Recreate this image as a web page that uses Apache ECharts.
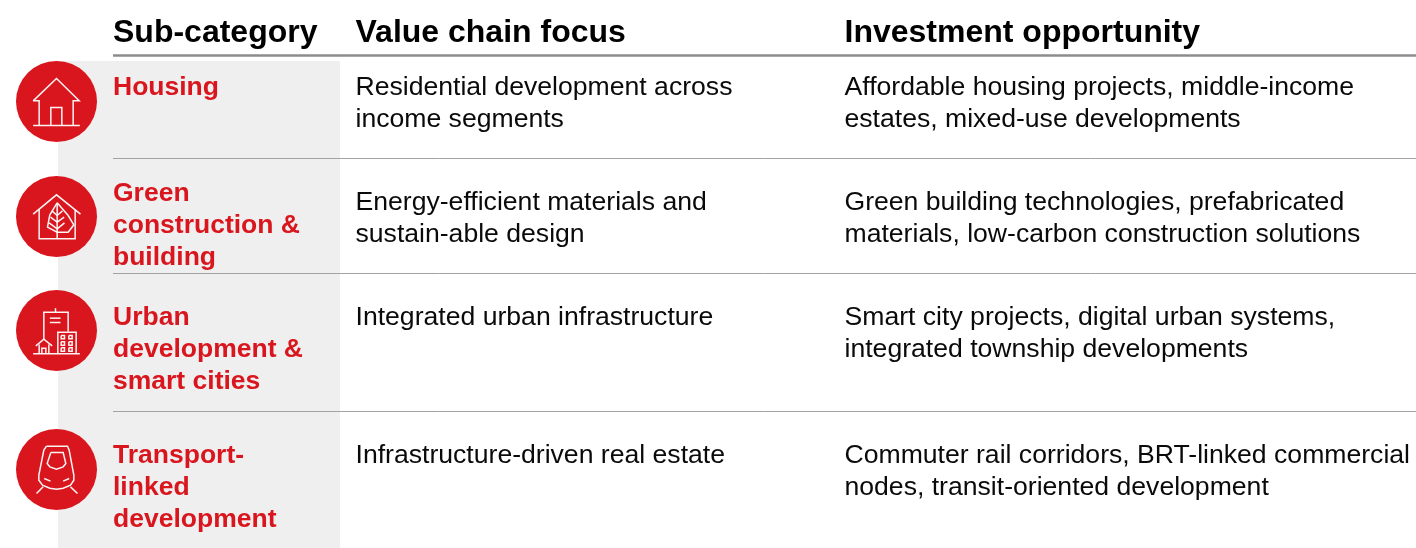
<!DOCTYPE html>
<html>
<head>
<meta charset="utf-8">
<style>
  html, body { margin: 0; padding: 0; background: #fff; }
  #main { width: 1416px; height: 548px; }
</style>
<script src="https://cdn.jsdelivr.net/npm/echarts@6/dist/echarts.min.js"></script>
</head>
<body>
<div id="main"></div>
<script>
const headers = ["Sub-category", "Value chain focus", "Investment opportunity"];
const subCategories = [
  ["Housing"],
  ["Green", "construction &", "building"],
  ["Urban", "development &", "smart cities"],
  ["Transport-", "linked", "development"]
];
const valueChain = [
  ["Residential development across", "income segments"],
  ["Energy-efficient materials and", "sustain-able design"],
  ["Integrated urban infrastructure"],
  ["Infrastructure-driven real estate"]
];
const opportunity = [
  ["Affordable housing projects, middle-income", "estates, mixed-use developments"],
  ["Green building technologies, prefabricated", "materials, low-carbon construction solutions"],
  ["Smart city projects, digital urban systems,", "integrated township developments"],
  ["Commuter rail corridors, BRT-linked commercial", "nodes, transit-oriented development"]
];

// layout
const columnX = [113, 355.5, 844.5];
const catFirstY = [88, 194, 318, 456];
const bodyFirstY = [88, 203, 318, 456];
const circleY = [101.5, 216.5, 330.5, 469.5];
const ruleY = [158.5, 273.5, 411.5];
const RED = "#d9161e";

// icon outlines, traced in 3x units around the circle centre (170, cy)
const icons = [
  { cy: 154, lines: [
    [[100,152],[170,85],[238,152],[220,152],[220,225]],
    [[100,152],[118,152],[118,225]],
    [[153,225],[153,172],[186,172],[186,225]],
    [[100,226],[240,226]]
  ]},
  { cy: 153, lines: [
    [[100,146],[170,88],[242,146]],
    [[118,132],[118,220],[226,220],[226,132]],
    [[172,112],[150,148],[143,185],[172,200],[205,200],[222,178],[205,150],[172,112]],
    [[172,115],[172,220]],
    [[172,150],[156,136]], [[172,150],[188,136]],
    [[172,170],[152,155]], [[172,170],[193,155]],
    [[172,190],[148,172]], [[172,190],[194,172]]
  ]},
  { cy: 152, lines: [
    [[132,178],[132,97],[205,97],[205,155]],
    [[167,85],[167,97]],
    [[150,115],[182,115]], [[150,128],[182,128]],
    [[174,222],[174,157],[229,157],[229,222]],
    [[184,167],[194,167],[194,177],[184,177],[184,167]],
    [[207,167],[217,167],[217,177],[207,177],[207,167]],
    [[184,186],[194,186],[194,196],[184,196],[184,186]],
    [[207,186],[217,186],[217,196],[207,196],[207,186]],
    [[184,204],[194,204],[194,214],[184,214],[184,204]],
    [[207,204],[217,204],[217,214],[207,214],[207,204]],
    [[108,198],[132,178],[157,198]],
    [[118,194],[118,222]], [[147,194],[147,222]],
    [[126,222],[126,205],[138,205],[138,222]],
    [[100,222],[240,222]]
  ]},
  { cy: 148, lines: [
    [[140,78],[203,78],[208,90],[222,165],[222,180],[212,195],[190,204],[170,207],[150,204],[128,195],[117,180],[117,165],[132,90],[140,78]],
    [[153,97],[190,97],[198,130],[190,140],[170,147],[150,140],[142,130],[153,97]],
    [[133,175],[152,183]], [[208,175],[190,183]],
    [[130,200],[110,220]], [[212,200],[233,220]]
  ]}
];

function textEl(x, y, str, size, weight, color) {
  return {
    type: "text",
    x: x,
    y: y,
    style: {
      text: str,
      fill: color,
      font: weight + " " + size + "px 'Liberation Sans', Arial, sans-serif",
      textVerticalAlign: "middle"
    }
  };
}

function hRule(y, width, color) {
  return {
    type: "line",
    shape: { x1: columnX[0], y1: y, x2: 1416, y2: y },
    style: { stroke: color, lineWidth: width }
  };
}

function buildGraphics() {
  const els = [];
  // grey band behind the first column
  els.push({
    type: "rect",
    shape: { x: 58, y: 61, width: 282, height: 487 },
    style: { fill: "#efefef" }
  });
  headers.forEach((h, i) => {
    els.push(textEl(columnX[i], 33, h, 32, "bold", "#000"));
  });
  els.push(hRule(55.5, 2.5, "#8c8c8c"));
  ruleY.forEach(y => els.push(hRule(y, 1, "#a3a3a3")));

  subCategories.forEach((lines, r) => {
    lines.forEach((l, k) => {
      els.push(textEl(columnX[0], catFirstY[r] + k * 32, l, 26.5, "bold", RED));
    });
    valueChain[r].forEach((l, k) => {
      els.push(textEl(columnX[1], bodyFirstY[r] + k * 32, l, 26.6, "normal", "#0a0a0a"));
    });
    opportunity[r].forEach((l, k) => {
      els.push(textEl(columnX[2], bodyFirstY[r] + k * 32, l, 26.6, "normal", "#0a0a0a"));
    });

    els.push({
      type: "circle",
      shape: { cx: 56.5, cy: circleY[r], r: 40.5 },
      style: { fill: RED }
    });
    const icon = icons[r];
    icon.lines.forEach(pts => {
      els.push({
        type: "polyline",
        shape: {
          points: pts.map(p => [56.5 + (p[0] - 170) / 3, circleY[r] + (p[1] - icon.cy) / 3])
        },
        style: { stroke: "#fff", fill: null, lineWidth: 1.5, opacity: 0.95 }
      });
    });
  });
  return els;
}

const chart = echarts.init(document.getElementById("main"), null, { renderer: "canvas" });
chart.setOption({
  animation: false,
  backgroundColor: "#fff",
  graphic: { elements: buildGraphics() }
});
</script>
</body>
</html>
